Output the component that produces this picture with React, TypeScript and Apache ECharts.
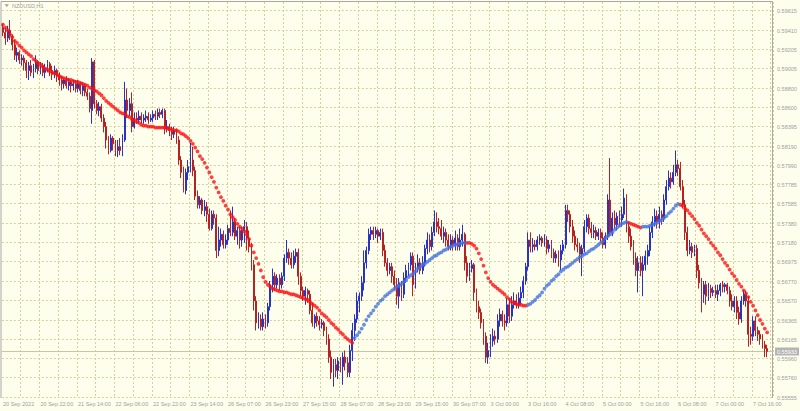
import React, { useEffect, useRef } from "react";
import * as echarts from "echarts";

const symbolTitle = "NZDUSD,H1";
const bidLabel = "0.55933";

const timeLabels = [
  "20 Sep 2022", "20 Sep 22:00", "21 Sep 14:00", "22 Sep 06:00", "22 Sep 22:00", "23 Sep 14:00",
  "26 Sep 07:00", "26 Sep 23:00", "27 Sep 15:00", "28 Sep 07:00", "28 Sep 23:00", "29 Sep 15:00",
  "30 Sep 07:00", "3 Oct 00:00", "3 Oct 16:00", "4 Oct 08:00", "5 Oct 00:00", "5 Oct 16:00",
  "6 Oct 08:00", "7 Oct 00:00", "7 Oct 16:00",
];

const priceLabels = [
  "0.59615", "0.59410", "0.59205", "0.59005", "0.58800", "0.58600", "0.58395", "0.58190",
  "0.57990", "0.57785", "0.57585", "0.57380", "0.57180", "0.56975", "0.56770", "0.56570",
  "0.56365", "0.56165", "0.55960", "0.55760", "0.55555",
];

const opens = [
  0.5943,0.5938,0.5932,0.5940,0.5934,0.5925,0.5914,0.5917,0.5909,0.5911,0.5906,0.5898,0.5903,0.5896,0.5900,0.5907,
  0.5898,0.5903,0.5896,0.5900,0.5905,0.5898,0.5894,0.5898,0.5892,0.5888,0.5884,0.5888,0.5882,0.5886,0.5882,0.5884,
  0.5879,0.5884,0.5877,0.5882,0.5875,0.5871,0.5856,0.5907,0.5863,0.5856,0.5860,0.5848,0.5839,0.5825,0.5814,0.5827,
  0.5821,0.5814,0.5818,0.5814,0.5825,0.5867,0.5856,0.5863,0.5839,0.5848,0.5846,0.5850,0.5846,0.5848,0.5850,0.5846,
  0.5848,0.5852,0.5850,0.5854,0.5852,0.5856,0.5837,0.5839,0.5835,0.5831,0.5835,0.5825,0.5804,0.5791,0.5772,0.5791,
  0.5797,0.5804,0.5793,0.5766,0.5757,0.5762,0.5751,0.5755,0.5747,0.5732,0.5747,0.5743,0.5709,0.5720,0.5726,0.5715,
  0.5720,0.5732,0.5728,0.5739,0.5724,0.5730,0.5720,0.5730,0.5734,0.5722,0.5713,0.5694,0.5656,0.5633,0.5637,0.5629,
  0.5637,0.5633,0.5650,0.5673,0.5682,0.5673,0.5680,0.5673,0.5682,0.5701,0.5707,0.5701,0.5694,0.5703,0.5707,0.5682,
  0.5667,0.5661,0.5667,0.5663,0.5646,0.5633,0.5640,0.5635,0.5631,0.5633,0.5625,0.5616,0.5597,0.5581,0.5589,0.5583,
  0.5593,0.5587,0.5597,0.5591,0.5581,0.5604,0.5625,0.5637,0.5656,0.5661,0.5675,0.5696,0.5709,0.5726,0.5730,0.5726,
  0.5730,0.5724,0.5728,0.5709,0.5696,0.5688,0.5692,0.5682,0.5673,0.5661,0.5675,0.5663,0.5680,0.5688,0.5694,0.5703,
  0.5673,0.5690,0.5696,0.5688,0.5696,0.5711,0.5720,0.5713,0.5728,0.5739,
  0.5734,
  0.5732,0.5724,0.5728,0.5720,0.5713,0.5720,0.5715,0.5722,0.5713,0.5720,0.5726,0.5696,0.5682,0.5690,0.5694,0.5665,
  0.5650,0.5644,0.5633,0.5619,0.5597,0.5604,0.5614,0.5619,0.5616,0.5635,0.5642,0.5635,0.5633,0.5652,0.5640,0.5652,
  0.5656,0.5652,0.5659,0.5665,0.5677,0.5692,0.5720,0.5713,0.5715,0.5713,0.5720,0.5722,0.5717,0.5720,0.5711,0.5715,
  0.5707,0.5701,0.5705,0.5699,0.5709,0.5715,0.5751,0.5747,0.5734,0.5724,0.5715,0.5713,0.5705,0.5711,0.5734,0.5743,0.5732,
  0.5728,
  0.5730,0.5724,0.5728,0.5722,0.5715,0.5724,0.5762,0.5728,0.5743,0.5736,0.5745,0.5741,0.5747,0.5764,0.5734,0.5724,
  0.5713,0.5701,0.5688,0.5696,0.5688,0.5694,0.5703,0.5709,0.5728,0.5739,0.5745,0.5739,0.5747,0.5743,0.5762,0.5776,
  0.5785,0.5781,0.5791,0.5799,0.5795,0.5776,0.5757,0.5728,0.5709,0.5713,0.5707,0.5711,0.5688,0.5675,0.5663,0.5673,
  0.5661,0.5669,0.5665,0.5667,0.5663,0.5667,0.5673,0.5671,0.5673,0.5667,0.5656,0.5650,0.5656,0.5644,0.5637,0.5656,0.5663,
  0.5656,0.5621,0.5619,0.5635,0.5625,0.5621,0.5616,0.5610,0.5606,
];

const closes = [
  0.5938,0.5932,0.5940,0.5934,0.5925,0.5914,0.5917,0.5909,0.5911,0.5906,0.5898,0.5903,0.5896,0.5900,0.5907,0.5898,
  0.5903,0.5896,0.5900,0.5905,0.5898,0.5894,0.5898,0.5892,0.5888,0.5884,0.5888,0.5882,0.5886,0.5882,0.5884,0.5879,
  0.5884,0.5877,0.5882,0.5875,0.5871,0.5858,0.5907,0.5863,0.5856,0.5860,0.5848,0.5839,0.5825,0.5814,0.5827,0.5821,
  0.5814,0.5818,0.5814,0.5825,0.5867,0.5856,0.5863,0.5839,0.5848,0.5846,0.5850,0.5846,0.5848,0.5850,0.5846,0.5848,
  0.5852,0.5850,0.5854,0.5852,0.5856,0.5837,0.5839,0.5835,0.5831,0.5835,0.5825,0.5804,0.5791,0.5772,0.5791,0.5797,
  0.5804,0.5793,0.5766,0.5757,0.5762,0.5751,0.5755,0.5747,0.5732,0.5747,0.5743,0.5709,0.5720,0.5726,0.5715,0.5720,
  0.5732,0.5728,0.5739,0.5724,0.5730,0.5720,0.5730,0.5734,0.5722,0.5713,0.5694,0.5656,0.5633,0.5637,0.5629,0.5637,
  0.5633,0.5650,0.5673,0.5682,0.5673,0.5680,0.5673,0.5682,0.5701,0.5707,0.5701,0.5694,0.5703,0.5707,0.5682,0.5667,
  0.5661,0.5667,0.5663,0.5646,0.5633,0.5640,0.5635,0.5631,0.5633,0.5625,0.5616,0.5597,0.5581,0.5589,0.5583,0.5593,
  0.5587,0.5597,0.5591,0.5581,0.5604,0.5625,0.5637,0.5656,0.5661,0.5675,0.5696,0.5709,0.5726,0.5730,0.5726,0.5730,
  0.5724,0.5728,0.5709,0.5696,0.5688,0.5692,0.5682,0.5673,0.5661,0.5675,0.5663,0.5680,0.5688,0.5694,0.5703,0.5673,
  0.5690,0.5696,0.5688,0.5696,0.5711,0.5720,0.5713,0.5728,0.5739,0.5734,
  0.5732,
  0.5724,0.5728,0.5720,0.5713,0.5720,0.5715,0.5722,0.5713,0.5720,0.5726,0.5696,0.5682,0.5690,0.5694,0.5665,0.5650,
  0.5644,0.5633,0.5619,0.5597,0.5604,0.5614,0.5619,0.5616,0.5635,0.5642,0.5635,0.5633,0.5652,0.5640,0.5652,0.5656,
  0.5652,0.5659,0.5665,0.5677,0.5692,0.5720,0.5713,0.5715,0.5713,0.5720,0.5722,0.5717,0.5720,0.5711,0.5715,0.5707,
  0.5701,0.5705,0.5699,0.5709,0.5715,0.5751,0.5747,0.5734,0.5724,0.5715,0.5713,0.5705,0.5711,0.5734,0.5743,0.5732,0.5728,
  0.5730,
  0.5724,0.5728,0.5722,0.5715,0.5724,0.5762,0.5728,0.5743,0.5736,0.5745,0.5741,0.5747,0.5764,0.5734,0.5724,0.5713,
  0.5701,0.5688,0.5696,0.5688,0.5694,0.5703,0.5709,0.5728,0.5739,0.5745,0.5739,0.5747,0.5743,0.5762,0.5776,0.5785,
  0.5781,0.5791,0.5799,0.5795,0.5776,0.5757,0.5728,0.5709,0.5713,0.5707,0.5711,0.5688,0.5675,0.5663,0.5673,0.5661,
  0.5669,0.5665,0.5667,0.5663,0.5667,0.5673,0.5671,0.5673,0.5667,0.5656,0.5650,0.5656,0.5644,0.5637,0.5656,0.5663,0.5656,
  0.5621,0.5619,0.5635,0.5625,0.5621,0.5616,0.5610,0.5606,0.5603,
];

const lows = [
  0.5934,0.5925,0.5928,0.5930,0.5919,0.5909,0.5907,0.5905,0.5903,0.5898,0.5890,0.5888,0.5892,0.5890,0.5896,0.5894,
  0.5894,0.5892,0.5890,0.5896,0.5892,0.5888,0.5890,0.5886,0.5882,0.5877,0.5879,0.5879,0.5877,0.5875,0.5877,0.5875,
  0.5875,0.5873,0.5871,0.5871,0.5867,0.5854,0.5842,0.5858,0.5852,0.5850,0.5844,0.5833,0.5816,0.5810,0.5812,0.5814,
  0.5808,0.5807,0.5809,0.5808,0.5823,0.5848,0.5850,0.5833,0.5837,0.5842,0.5842,0.5842,0.5842,0.5844,0.5842,0.5844,
  0.5844,0.5846,0.5846,0.5848,0.5848,0.5831,0.5833,0.5829,0.5825,0.5827,0.5821,0.5799,0.5785,0.5770,0.5768,0.5783,
  0.5791,0.5787,0.5762,0.5753,0.5753,0.5747,0.5745,0.5739,0.5730,0.5730,0.5736,0.5701,0.5703,0.5713,0.5711,0.5711,
  0.5715,0.5724,0.5724,0.5720,0.5715,0.5711,0.5713,0.5717,0.5709,0.5707,0.5688,0.5646,0.5625,0.5627,0.5625,0.5625,
  0.5627,0.5629,0.5646,0.5665,0.5667,0.5669,0.5667,0.5669,0.5677,0.5696,0.5694,0.5690,0.5690,0.5696,0.5673,0.5661,
  0.5656,0.5652,0.5654,0.5642,0.5629,0.5627,0.5629,0.5625,0.5627,0.5619,0.5610,0.5591,0.5574,0.5566,0.5576,0.5574,
  0.5581,0.5568,0.5583,0.5576,0.5576,0.5593,0.5614,0.5633,0.5644,0.5656,0.5667,0.5690,0.5705,0.5720,0.5720,0.5722,
  0.5717,0.5720,0.5703,0.5692,0.5682,0.5684,0.5675,0.5667,0.5652,0.5648,0.5656,0.5659,0.5675,0.5682,0.5688,0.5661,
  0.5669,0.5686,0.5684,0.5684,0.5692,0.5705,0.5707,0.5709,0.5724,0.5728,
  0.5726,
  0.5720,0.5717,0.5713,0.5709,0.5709,0.5709,0.5709,0.5709,0.5709,0.5713,0.5688,0.5675,0.5677,0.5686,0.5656,0.5644,
  0.5637,0.5627,0.5610,0.5591,0.5590,0.5597,0.5608,0.5610,0.5612,0.5629,0.5629,0.5625,0.5629,0.5633,0.5635,0.5648,
  0.5648,0.5648,0.5652,0.5659,0.5673,0.5688,0.5707,0.5707,0.5709,0.5709,0.5715,0.5713,0.5713,0.5705,0.5707,0.5701,
  0.5696,0.5696,0.5692,0.5688,0.5705,0.5711,0.5739,0.5728,0.5717,0.5709,0.5707,0.5696,0.5682,0.5707,0.5728,0.5726,0.5722,
  0.5722,
  0.5720,0.5720,0.5717,0.5711,0.5711,0.5720,0.5724,0.5724,0.5732,0.5730,0.5734,0.5734,0.5743,0.5728,0.5717,0.5709,
  0.5694,0.5682,0.5665,0.5682,0.5661,0.5688,0.5694,0.5703,0.5722,0.5734,0.5732,0.5732,0.5736,0.5739,0.5757,0.5772,
  0.5774,0.5778,0.5787,0.5787,0.5772,0.5753,0.5720,0.5703,0.5705,0.5701,0.5703,0.5680,0.5669,0.5644,0.5654,0.5652,
  0.5656,0.5659,0.5661,0.5659,0.5656,0.5661,0.5665,0.5665,0.5663,0.5650,0.5646,0.5644,0.5637,0.5631,0.5633,0.5652,0.5650,
  0.5608,0.5610,0.5614,0.5619,0.5614,0.5610,0.5606,0.5597,0.5597,
];

const highs = [
  0.5947,0.5943,0.5945,0.5951,0.5936,0.5930,0.5922,0.5919,0.5915,0.5914,0.5909,0.5907,0.5909,0.5905,0.5914,0.5909,
  0.5907,0.5906,0.5905,0.5909,0.5907,0.5903,0.5903,0.5900,0.5896,0.5892,0.5890,0.5892,0.5890,0.5888,0.5888,0.5888,
  0.5888,0.5886,0.5886,0.5884,0.5879,0.5875,0.5911,0.5909,0.5867,0.5865,0.5863,0.5852,0.5844,0.5829,0.5831,0.5829,
  0.5825,0.5825,0.5827,0.5831,0.5886,0.5879,0.5869,0.5875,0.5854,0.5854,0.5856,0.5854,0.5852,0.5856,0.5854,0.5852,
  0.5856,0.5856,0.5858,0.5858,0.5858,0.5858,0.5846,0.5842,0.5839,0.5839,0.5837,0.5829,0.5808,0.5797,0.5795,0.5804,
  0.5822,0.5818,0.5797,0.5772,0.5766,0.5764,0.5762,0.5760,0.5753,0.5751,0.5751,0.5747,0.5734,0.5732,0.5730,0.5726,
  0.5736,0.5751,0.5755,0.5743,0.5734,0.5734,0.5734,0.5741,0.5739,0.5730,0.5717,0.5699,0.5661,0.5644,0.5642,0.5644,
  0.5642,0.5654,0.5677,0.5690,0.5686,0.5684,0.5684,0.5686,0.5705,0.5720,0.5711,0.5707,0.5709,0.5711,0.5711,0.5686,
  0.5671,0.5671,0.5669,0.5667,0.5654,0.5642,0.5644,0.5640,0.5637,0.5635,0.5629,0.5621,0.5604,0.5595,0.5595,0.5597,
  0.5597,0.5602,0.5604,0.5597,0.5610,0.5633,0.5642,0.5665,0.5665,0.5682,0.5709,0.5713,0.5732,0.5734,0.5734,0.5734,
  0.5732,0.5732,0.5732,0.5715,0.5701,0.5696,0.5696,0.5688,0.5680,0.5680,0.5677,0.5686,0.5694,0.5696,0.5707,0.5707,
  0.5696,0.5705,0.5701,0.5703,0.5715,0.5728,0.5726,0.5734,0.5751,0.5749,
  0.5743,
  0.5741,0.5734,0.5732,0.5726,0.5726,0.5724,0.5730,0.5726,0.5732,0.5736,0.5728,0.5703,0.5696,0.5699,0.5696,0.5669,
  0.5656,0.5648,0.5637,0.5623,0.5612,0.5621,0.5627,0.5625,0.5642,0.5648,0.5646,0.5642,0.5659,0.5659,0.5661,0.5665,
  0.5663,0.5665,0.5671,0.5682,0.5696,0.5728,0.5728,0.5722,0.5720,0.5724,0.5726,0.5724,0.5726,0.5724,0.5720,0.5720,
  0.5711,0.5709,0.5709,0.5715,0.5720,0.5757,0.5757,0.5751,0.5741,0.5730,0.5722,0.5717,0.5715,0.5741,0.5747,0.5747,0.5739,
  0.5736,
  0.5734,0.5732,0.5732,0.5728,0.5728,0.5768,0.5806,0.5749,0.5751,0.5749,0.5751,0.5755,0.5774,0.5768,0.5739,0.5732,
  0.5720,0.5707,0.5703,0.5703,0.5703,0.5709,0.5715,0.5734,0.5745,0.5753,0.5751,0.5755,0.5751,0.5768,0.5783,0.5793,
  0.5791,0.5799,0.5814,0.5804,0.5802,0.5783,0.5762,0.5734,0.5720,0.5717,0.5715,0.5715,0.5694,0.5680,0.5677,0.5677,
  0.5675,0.5673,0.5671,0.5673,0.5673,0.5675,0.5677,0.5675,0.5675,0.5671,0.5663,0.5661,0.5661,0.5650,0.5661,0.5667,0.5667,
  0.5661,0.5629,0.5640,0.5640,0.5629,0.5625,0.5621,0.5614,0.5610,
];

const ma = [
  0.5946,0.5943,0.5940,0.5936,0.5933,0.5929,0.5927,0.5924,0.5922,0.5919,0.5917,0.5915,0.5913,0.5910,0.5908,0.5906,
  0.5904,0.5902,0.5900,0.5899,0.5897,0.5896,0.5895,0.5894,0.5892,0.5891,0.5890,0.5889,0.5888,0.5888,0.5887,0.5886,
  0.5886,0.5885,0.5884,0.5883,0.5882,0.5880,0.5879,0.5877,0.5876,0.5874,0.5872,0.5869,0.5866,0.5864,0.5862,0.5860,
  0.5858,0.5856,0.5854,0.5853,0.5852,0.5850,0.5849,0.5847,0.5846,0.5844,0.5843,0.5841,0.5840,0.5840,0.5839,0.5839,
  0.5839,0.5838,0.5838,0.5838,0.5838,0.5838,0.5837,0.5837,0.5836,0.5835,0.5835,0.5834,0.5832,0.5831,0.5829,0.5827,
  0.5824,0.5821,0.5817,0.5813,0.5808,0.5805,0.5801,0.5796,0.5791,0.5786,0.5781,0.5775,0.5770,0.5765,0.5761,0.5756,
  0.5752,0.5747,0.5744,0.5741,0.5737,0.5734,0.5732,0.5729,0.5726,0.5721,0.5714,0.5707,0.5701,0.5695,0.5688,0.5681,
  0.5676,0.5673,0.5671,0.5669,0.5668,0.5667,0.5666,0.5666,0.5665,0.5665,0.5664,0.5663,0.5663,0.5662,0.5661,0.5660,
  0.5659,0.5658,0.5657,0.5655,0.5653,0.5651,0.5649,0.5646,0.5643,0.5641,0.5639,0.5636,0.5633,0.5631,0.5628,0.5626,
  0.5623,0.5621,0.5618,0.5616,0.5614,0.5612,0.5617,0.5620,0.5623,0.5627,0.5631,0.5636,0.5640,0.5643,0.5646,0.5650,
  0.5653,0.5656,0.5658,0.5661,0.5663,0.5665,0.5667,0.5669,0.5671,0.5672,0.5674,0.5676,0.5678,0.5681,0.5683,0.5685,
  0.5687,0.5690,0.5692,0.5694,0.5695,0.5697,0.5699,0.5701,0.5703,0.5704,0.5706,0.5707,0.5709,0.5710,0.5712,0.5713,
  0.5714,0.5715,0.5716,0.5716,0.5717,0.5717,0.5717,0.5717,0.5716,0.5714,0.5711,0.5706,0.5700,0.5693,0.5686,0.5680,
  0.5676,0.5673,0.5671,0.5669,0.5667,0.5665,0.5663,0.5660,0.5658,0.5655,0.5654,0.5653,0.5652,0.5652,0.5651,0.5651,
  0.5652,0.5653,0.5655,0.5657,0.5660,0.5662,0.5665,0.5669,0.5672,0.5674,0.5677,0.5679,0.5682,0.5684,0.5687,0.5689,
  0.5691,0.5692,0.5694,0.5696,0.5698,0.5700,0.5702,0.5703,0.5705,0.5706,0.5708,0.5710,0.5711,0.5713,0.5715,0.5717,
  0.5719,0.5722,0.5724,0.5726,0.5728,0.5731,0.5733,0.5735,0.5737,0.5738,0.5739,0.5738,0.5737,0.5736,0.5735,0.5734,
  0.5733,0.5734,0.5734,0.5734,0.5735,0.5736,0.5737,0.5738,0.5740,0.5741,0.5743,0.5745,0.5748,0.5750,0.5753,0.5756,
  0.5758,0.5757,0.5756,0.5753,0.5751,0.5748,0.5745,0.5742,0.5738,0.5735,0.5731,0.5727,0.5724,0.5721,0.5717,0.5714,
  0.5711,0.5707,0.5704,0.5700,0.5696,0.5693,0.5689,0.5685,0.5682,0.5678,0.5674,0.5671,0.5667,0.5664,0.5660,0.5655,
  0.5651,0.5646,0.5641,0.5636,0.5632,0.5627,0.5623,
];

// colour of the moving-average dots: [first bar, last bar, direction]
const maTrend: [number, number, "up" | "down"][] = [
  [0, 149, "down"], [150, 197, "up"], [198, 223, "down"], [224, 266, "up"],
  [267, 272, "down"], [273, 288, "up"], [289, 326, "down"],
];

const FONT = "Liberation Sans";
const TEXT = "#a0a0a0";
const GRID = "#d6d09c";

export default function App() {
  const ref = useRef<HTMLDivElement>(null);

  useEffect(() => {
    if (!ref.current) return;
    const chart = echarts.init(ref.current, null, { renderer: "svg" });
    const n = opens.length;
    const slots = n + 2;
    const categories = Array.from({ length: slots }, (_, i) => String(i));
    const candles = opens.map((o, i) => [o, closes[i], lows[i], highs[i]]);
    const maUp: (number | string)[] = Array(slots).fill("-");
    const maDown: (number | string)[] = Array(slots).fill("-");
    maTrend.forEach(([s, e, d]) => {
      for (let i = s; i <= e; i++) (d === "up" ? maUp : maDown)[i] = ma[i];
    });

    // horizontal price grid + right-hand labels + bid line, placed through the y scale
    const levels = [
      ...priceLabels.map((t) => ({ value: [0, parseFloat(t)], text: t, kind: "grid" })),
      { value: [0, closes[n - 1]], text: bidLabel, kind: "bid" },
    ];

    const renderLevel = (params: any, api: any) => {
      const cs = params.coordSys;
      const item = levels[params.dataIndex];
      const yRaw = api.coord([0, api.value(1)])[1];
      const y = Math.round(yRaw) + 0.5;
      const x0 = cs.x;
      const x1 = cs.x + cs.width;
      if (item.kind === "grid") {
        return {
          type: "group",
          children: [
            {
              type: "line",
              shape: { x1: x0, y1: y, x2: x1, y2: y },
              style: { stroke: GRID, lineWidth: 1, lineDash: [2, 2] },
            },
            {
              type: "text",
              x: x1 + 4,
              y: y,
              style: {
                text: item.text,
                fill: TEXT,
                fontSize: 5.5,
                fontFamily: FONT,
                verticalAlign: "middle",
                align: "left",
              },
            },
          ],
        };
      }
      return {
        type: "group",
        children: [
          {
            type: "line",
            shape: { x1: x0, y1: y, x2: x1, y2: y },
            style: { stroke: "#cbc59a", lineWidth: 1 },
          },
          {
            type: "rect",
            shape: { x: x1 + 2, y: y - 4, width: 24, height: 8 },
            style: { fill: "#b4b4b4" },
          },
          {
            type: "text",
            x: x1 + 4,
            y: y,
            style: {
              text: item.text,
              fill: "#ffffff",
              fontSize: 5.5,
              fontFamily: FONT,
              verticalAlign: "middle",
              align: "left",
            },
          },
        ],
      };
    };

    chart.setOption({
      animation: false,
      backgroundColor: "#fefeec",
      grid: { left: 1, top: 2, width: 772, height: 396, show: false },
      xAxis: {
        type: "category",
        data: categories,
        boundaryGap: true,
        axisLine: { show: false },
        axisTick: { show: false },
        axisLabel: {
          interval: (i: number) => i % 16 === 0 && i / 16 < timeLabels.length,
          formatter: (_v: string, i: number) => timeLabels[i / 16] ?? "",
          align: "left",
          color: TEXT,
          fontSize: 5.5,
          fontFamily: FONT,
          margin: 3,
        },
        splitLine: {
          show: true,
          interval: (i: number) => i % 8 === 0 && i > 0,
          lineStyle: { color: GRID, type: [2, 2], width: 1 },
        },
      },
      yAxis: {
        type: "value",
        position: "right",
        min: 0.55541,
        max: 0.59699,
        axisLine: { show: false },
        axisTick: { show: false },
        axisLabel: { show: false },
        splitLine: { show: false },
      },
      graphic: [
        {
          type: "polyline",
          shape: { points: [[1, 398], [1, 1.5], [772.5, 1.5], [772.5, 398]] },
          style: { stroke: "#a8a8a8", fill: "none", lineWidth: 1 },
          silent: true,
        },
        {
          type: "polygon",
          shape: { points: [[4.5, 4.2], [9, 4.2], [6.75, 7]] },
          style: { fill: TEXT },
          silent: true,
        },
        {
          type: "text",
          x: 12,
          y: 2.5,
          style: { text: symbolTitle, fill: TEXT, fontSize: 5.5, fontFamily: FONT },
          silent: true,
        },
      ],
      series: [
        {
          type: "custom",
          data: levels.map((l) => l.value),
          renderItem: renderLevel,
          z: 1,
          silent: true,
          clip: false,
        },
        {
          type: "candlestick",
          data: candles,
          z: 2,
          barWidth: 1.4,
          itemStyle: {
            color: "#2a32c6",
            color0: "#b42222",
            borderColor: "#2a32c6",
            borderColor0: "#b42222",
            borderWidth: 1,
          },
        },
        {
          type: "scatter",
          data: maDown,
          z: 3,
          symbol: "circle",
          symbolSize: 3.8,
          itemStyle: { color: "#ff1010" },
        },
        {
          type: "scatter",
          data: maUp,
          z: 3,
          symbol: "circle",
          symbolSize: 3.8,
          itemStyle: { color: "#4472e0" },
        },
      ],
    });

    return () => chart.dispose();
  }, []);

  return (
    <div
      ref={ref}
      style={{ position: "fixed", left: 0, top: 0, width: 800, height: 411 }}
    />
  );
}
